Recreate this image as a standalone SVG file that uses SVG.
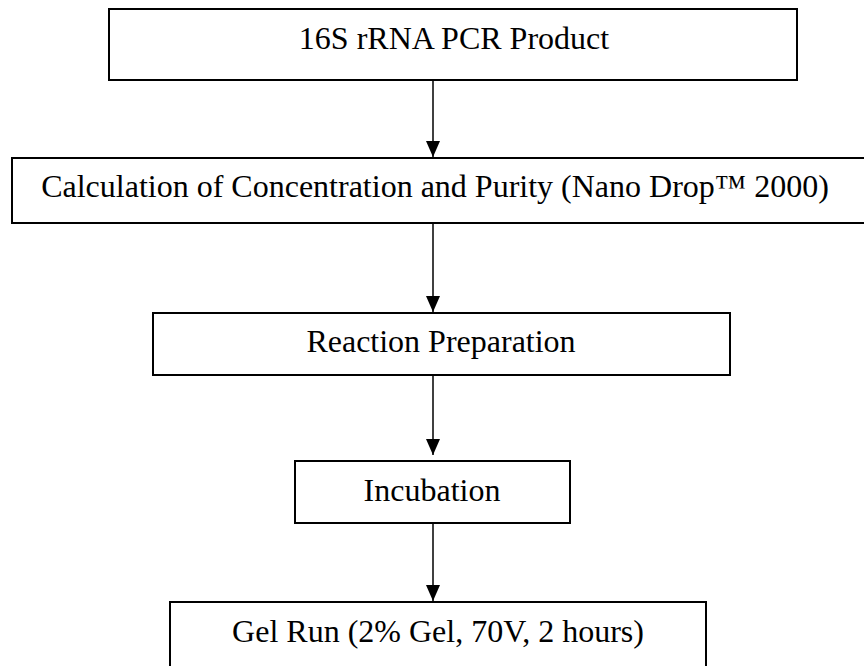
<svg xmlns="http://www.w3.org/2000/svg" width="864" height="666" viewBox="0 0 864 666">
<style>
.box{fill:#fff;stroke:#000;stroke-width:2}
.lbl{font-family:"Liberation Serif","Times New Roman",serif;font-size:32px;fill:#000;text-anchor:middle}
.conn{stroke:#000;stroke-width:1.5;fill:none;marker-end:url(#ah)}
</style>
<defs>
<marker id="ah" markerUnits="userSpaceOnUse" markerWidth="16" markerHeight="14" viewBox="0 0 16 14" refX="16" refY="7" orient="auto">
<path d="M0,0 L16,7 L0,14 Z" fill="#000"/>
</marker>
</defs>
<rect width="864" height="666" fill="#fff"/>
<g id="node1"><rect class="box" x="109" y="9" width="688" height="71"/><text class="lbl" x="454" y="49">16S rRNA PCR Product</text></g>
<g id="node2"><rect class="box" x="12" y="158" width="856" height="65"/><text class="lbl" x="435" y="197">Calculation of Concentration and Purity (Nano Drop™ 2000)</text></g>
<g id="node3"><rect class="box" x="153" y="313" width="577" height="62"/><text class="lbl" x="441" y="352">Reaction Preparation</text></g>
<g id="node4"><rect class="box" x="295" y="461" width="275" height="62"/><text class="lbl" x="432" y="501">Incubation</text></g>
<g id="node5"><rect class="box" x="170" y="602" width="536" height="80"/><text class="lbl" x="438" y="642">Gel Run (2% Gel, 70V, 2 hours)</text></g>
<g id="connectors">
<line class="conn" x1="433" y1="80" x2="433" y2="157"/>
<line class="conn" x1="433" y1="223" x2="433" y2="312"/>
<line class="conn" x1="433" y1="375" x2="433" y2="455"/>
<line class="conn" x1="433" y1="523" x2="433" y2="601"/>
</g>
</svg>
